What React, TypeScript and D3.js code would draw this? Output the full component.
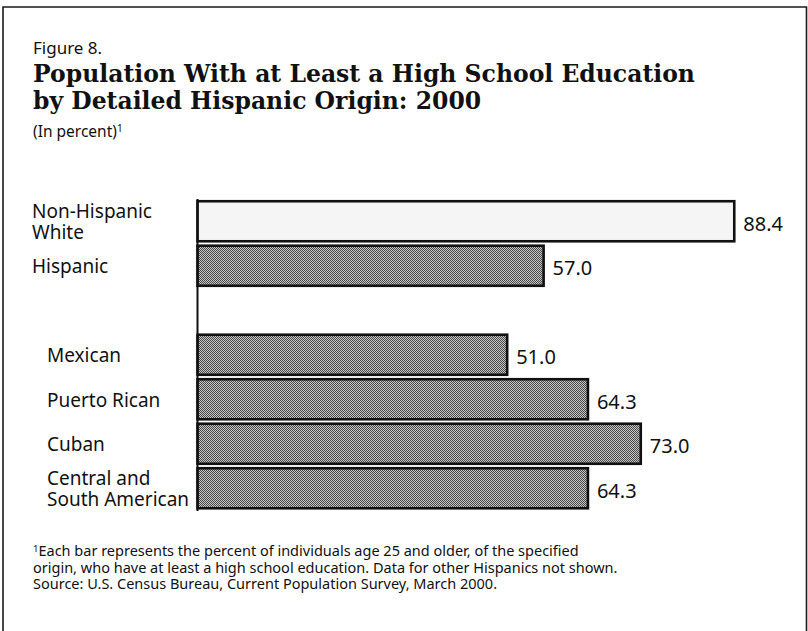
import React from "react";
import * as d3 from "d3";

const slotKeys = ["nhw", "hisp", "gap", "mex", "pr", "cub", "csa"];
const barKeys = ["nhw", "hisp", "mex", "pr", "cub", "csa"];
const labelLines = [["Non-Hispanic", "White"], ["Hispanic"], ["Mexican"], ["Puerto Rican"], ["Cuban"], ["Central and", "South American"]];
const values = [88.4, 57.0, 51.0, 64.3, 73.0, 64.3];
const valueLabels = ["88.4", "57.0", "51.0", "64.3", "73.0", "64.3"];
const titleLines = ["Population With at Least a High School Education", "by Detailed Hispanic Origin: 2000"];
const footnoteLines = [
  "Each bar represents the percent of individuals age 25 and older, of the specified",
  "origin, who have at least a high school education. Data for other Hispanics not shown.",
  "Source: U.S. Census Bureau, Current Population Survey, March 2000.",
];

const W = 808, H = 631;
const AXIS_X = 197.5;

export default function App() {
  const x = d3.scaleLinear().domain([0, 100]).range([AXIS_X, AXIS_X + 607.2]);
  const y = d3.scaleBand<string>().domain(slotKeys).range([199, 510.5]).paddingInner(0.1).paddingOuter(0.05);
  const sans = "'Noto Sans', 'Open Sans', sans-serif";
  const serif = "'DejaVu Serif', serif";

  return (
    <svg width={W} height={H} style={{ position: "absolute", left: 0, top: 0, background: "#fff" }}>
      <defs>
        <pattern id="dither" width={2} height={2} patternUnits="userSpaceOnUse">
          <rect width={2} height={2} fill="#c4c4c4" />
          <rect width={1} height={1} fill="#4a4a4a" />
          <rect x={1} y={1} width={1} height={1} fill="#4a4a4a" />
        </pattern>
      </defs>
      {/* frame */}
      <path d={`M3,${H} V7 H806.5 V${H}`} fill="none" stroke="#1a1a1a" strokeWidth={1.6} />

      {/* titles */}
      <text x={33} y={54} fontFamily={sans} fontSize={17} fill="#111">Figure 8.</text>
      <text fontFamily={serif} fontWeight="bold" fontSize={23.5} fill="#111">
        {titleLines.map((t, i) => (
          <tspan key={i} x={33} y={82 + i * 26.5}>{t}</tspan>
        ))}
      </text>
      <text x={33} y={137} fontFamily={sans} fontSize={15.5} fill="#111">
        (In percent)<tspan fontSize={10} dy={-5}>1</tspan>
      </text>

      {/* bars */}
      {barKeys.map((k, i) => {
        const y0 = y(k)!;
        const bw = y.bandwidth();
        const cy = y0 + bw / 2;
        const indent = i < 2 ? 32 : 47;
        const n = labelLines[i].length;
        const lineY = (j: number) => (n === 1 ? cy + 7.5 : cy - 3 + j * 20.5);
        return (
          <g key={k}>
            <rect
              x={x(0)}
              y={y0}
              width={x(values[i]) - x(0)}
              height={bw}
              fill={i === 0 ? "#f5f5f5" : "url(#dither)"}
              stroke="#111"
              strokeWidth={2.6}
            />
            <text fontFamily={sans} fontSize={19} fill="#111">
              {labelLines[i].map((l, j) => (
                <tspan key={j} x={indent} y={lineY(j)}>{l}</tspan>
              ))}
            </text>
            <text x={x(values[i]) + 9} y={cy + 9.5} fontFamily={sans} fontSize={20} fill="#111">{valueLabels[i]}</text>
          </g>
        );
      })}
      {/* axis line */}
      <line x1={AXIS_X} x2={AXIS_X} y1={199} y2={511} stroke="#111" strokeWidth={2} />

      {/* footnote */}
      <text fontFamily={sans} fontSize={14.5} fill="#111">
        <tspan x={33} y={551.5} fontSize={9.5}>1</tspan>
        <tspan y={556}>{footnoteLines[0]}</tspan>
        <tspan x={33} y={572.5}>{footnoteLines[1]}</tspan>
        <tspan x={33} y={589}>{footnoteLines[2]}</tspan>
      </text>
    </svg>
  );
}
